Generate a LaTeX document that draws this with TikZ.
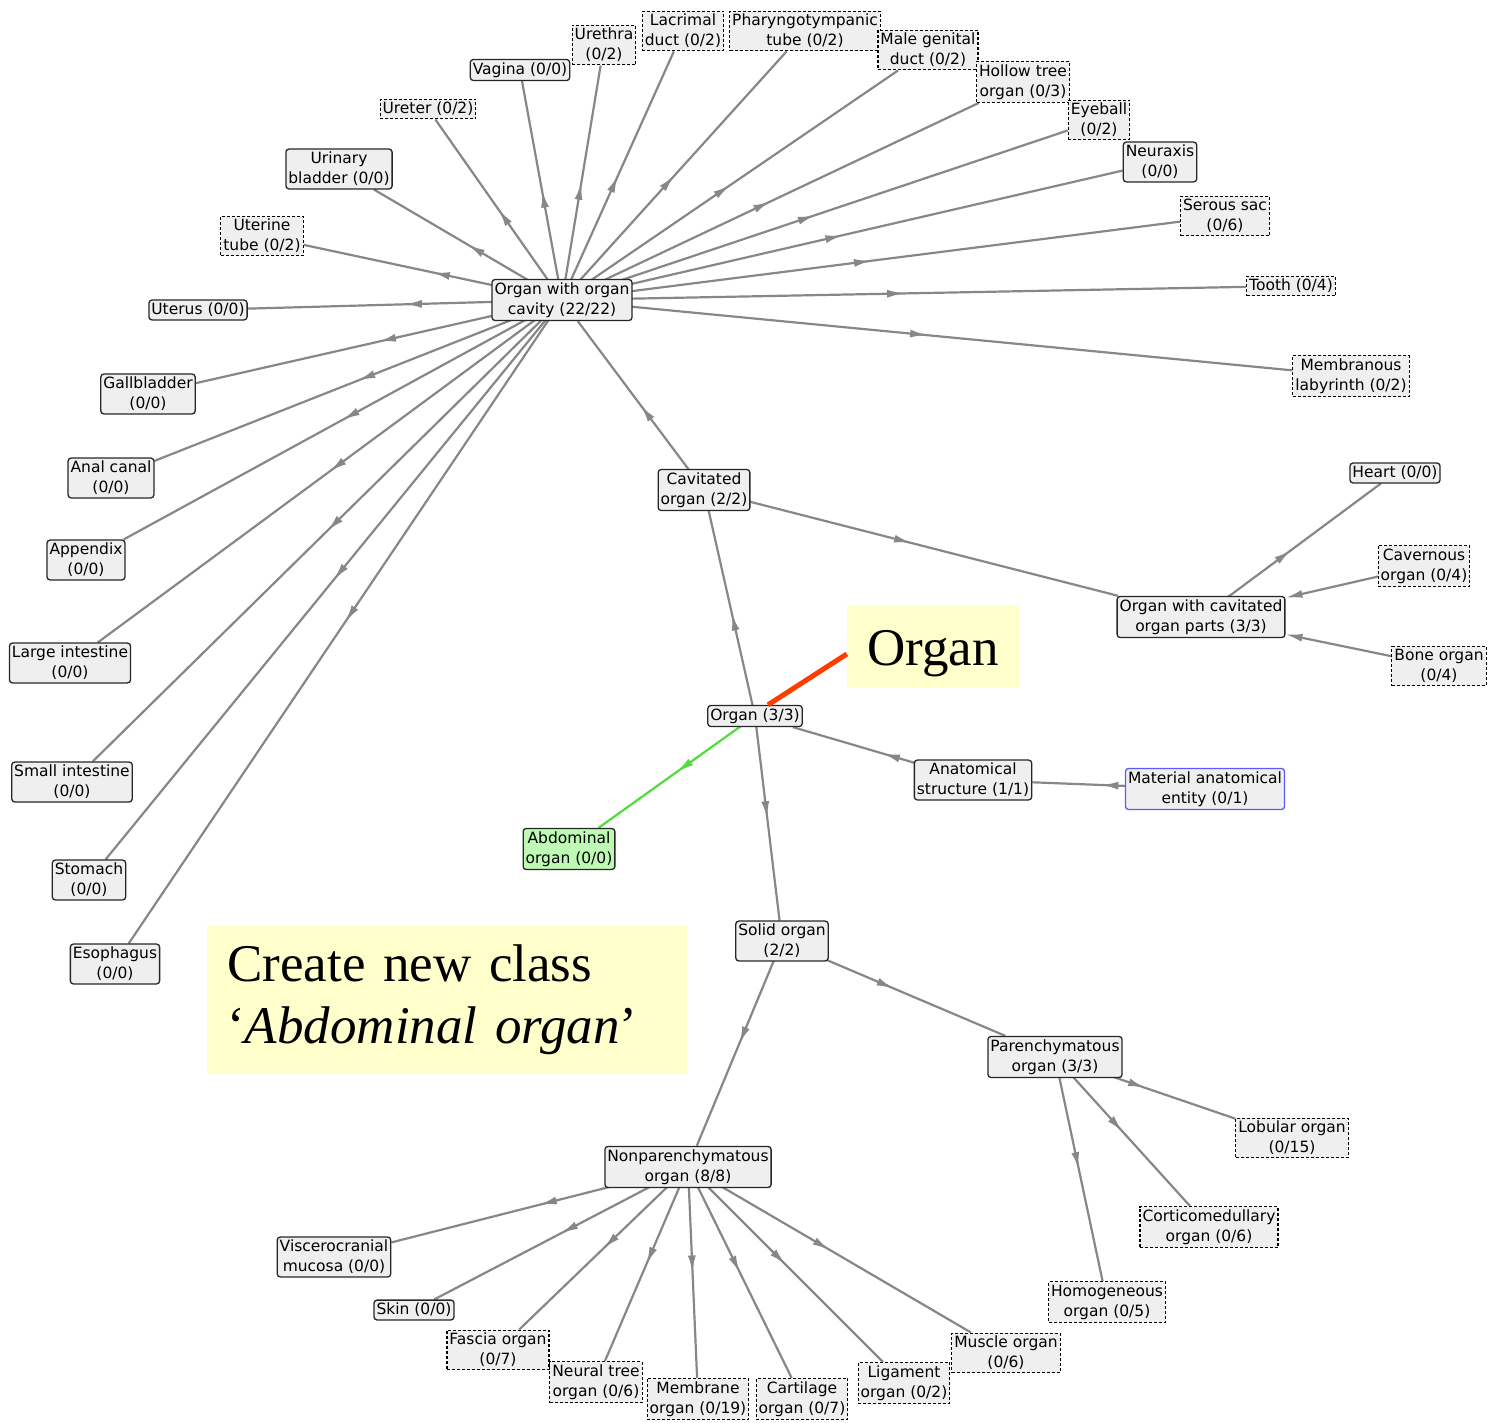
\documentclass[tikz,border=0pt]{standalone}
\usepackage{fontspec}
\setmainfont{DejaVu Sans}
\newfontfamily\notefont{Liberation Serif}
\usetikzlibrary{arrows.meta, decorations.markings, backgrounds}

\definecolor{edgegray}{RGB}{135,135,135}
\definecolor{boxfill}{RGB}{239,239,239}
\definecolor{newgreen}{RGB}{80,220,60}
\definecolor{newfill}{RGB}{190,250,180}
\definecolor{topblue}{RGB}{90,90,255}
\definecolor{notefill}{RGB}{255,255,204}
\definecolor{pointred}{RGB}{255,60,0}

\tikzset{
  cls/.style={draw=black!85, fill=boxfill, rounded corners=3pt, line width=1.3pt, align=center,
    inner xsep=2.5pt, inner ysep=3pt, font=\fontsize{15.5}{20}\selectfont},
  dashcls/.style={cls, draw=black, sharp corners, line width=1.1pt, dash pattern=on 3pt off 2pt},
  newcls/.style={cls, fill=newfill},
  topcls/.style={cls, draw=topblue},
  link/.style={draw=edgegray, line width=2.2pt, postaction={decorate},
    decoration={markings, mark=at position #1 with {\arrow{Latex[length=17pt,width=8pt]}}}},
  link/.default=0.5,
  link end/.style={draw=edgegray, line width=2.2pt, -{Latex[length=17pt,width=8pt]}},
  newlink/.style={link, draw=newgreen},
  note/.style={fill=notefill, font=\notefont\fontsize{53}{62}\selectfont},
  pointer/.style={draw=pointred, line width=5pt}
}

\begin{document}
\begin{tikzpicture}[x=1pt,y=-1pt]
\useasboundingbox (0,0) rectangle (1489,1423);

% organ with organ cavity and its fan
\node[cls] (owoc) at (562,300) {Organ with organ\\cavity (22/22)};
\node[cls] (vagina) at (520,70) {Vagina (0/0)};
\node[dashcls] (urethra) at (604,45) {Urethra\\(0/2)};
\node[dashcls] (lacrimal) at (683,31) {Lacrimal\\duct (0/2)};
\node[dashcls] (pharyngo) at (805,31) {Pharyngotympanic\\tube (0/2)};
\node[dashcls] (malegenital) at (928,50) {Male genital\\duct (0/2)};
\node[dashcls] (hollowtree) at (1023,82) {Hollow tree\\organ (0/3)};
\node[dashcls] (eyeball) at (1099,120) {Eyeball\\(0/2)};
\node[cls] (neuraxis) at (1160,162) {Neuraxis\\(0/0)};
\node[dashcls] (serous) at (1225,216) {Serous sac\\(0/6)};
\node[dashcls] (tooth) at (1291,286) {Tooth (0/4)};
\node[dashcls] (labyrinth) at (1351,376) {Membranous\\labyrinth (0/2)};
\node[dashcls] (ureter) at (428,109) {Ureter (0/2)};
\node[cls] (bladder) at (339,169) {Urinary\\bladder (0/0)};
\node[dashcls] (uterinetube) at (262,236) {Uterine\\tube (0/2)};
\node[cls] (uterus) at (198,310) {Uterus (0/0)};
\node[cls] (gallbladder) at (148,394) {Gallbladder\\(0/0)};
\node[cls] (analcanal) at (111,478) {Anal canal\\(0/0)};
\node[cls] (appendix) at (86,560) {Appendix\\(0/0)};
\node[cls] (largeint) at (70,663) {Large intestine\\(0/0)};
\node[cls] (smallint) at (72,782) {Small intestine\\(0/0)};
\node[cls] (stomach) at (89,880) {Stomach\\(0/0)};
\node[cls] (esophagus) at (115,964) {Esophagus\\(0/0)};

% upper middle
\node[cls] (cavitated) at (704,490) {Cavitated\\organ (2/2)};
\node[cls] (owcop) at (1201,617) {Organ with cavitated\\organ parts (3/3)};
\node[cls] (heart) at (1395,473) {Heart (0/0)};
\node[dashcls] (cavernous) at (1424,566) {Cavernous\\organ (0/4)};
\node[dashcls] (bone) at (1439,666) {Bone organ\\(0/4)};

% organ and the new class
\node[cls] (organ) at (755,716) {Organ (3/3)};
\node[cls] (anatomical) at (973,780) {Anatomical\\structure (1/1)};
\node[topcls] (material) at (1205,789) {Material anatomical\\entity (0/1)};
\node[newcls] (abdominal) at (569,849) {Abdominal\\organ (0/0)};

% solid organs
\node[cls] (solid) at (782,941) {Solid organ\\(2/2)};
\node[cls] (parench) at (1055,1057) {Parenchymatous\\organ (3/3)};
\node[dashcls] (lobular) at (1292,1138) {Lobular organ\\(0/15)};
\node[dashcls] (cortico) at (1209,1227) {Corticomedullary\\organ (0/6)};
\node[dashcls] (homogeneous) at (1107,1302) {Homogeneous\\organ (0/5)};
\node[cls] (nonparench) at (688,1167) {Nonparenchymatous\\organ (8/8)};
\node[cls] (viscero) at (334,1257) {Viscerocranial\\mucosa (0/0)};
\node[cls] (skin) at (414,1310) {Skin (0/0)};
\node[dashcls] (fascia) at (498,1350) {Fascia organ\\(0/7)};
\node[dashcls] (neural) at (596,1382) {Neural tree\\organ (0/6)};
\node[dashcls] (membrane) at (698,1399) {Membrane\\organ (0/19)};
\node[dashcls] (cartilage) at (802,1399) {Cartilage\\organ (0/7)};
\node[dashcls] (ligament) at (904,1383) {Ligament\\organ (0/2)};
\node[dashcls] (muscle) at (1006,1353) {Muscle organ\\(0/6)};

\begin{scope}[on background layer]
\foreach \n in {vagina,urethra,lacrimal,pharyngo,malegenital,hollowtree,eyeball,neuraxis,serous,tooth,labyrinth,ureter,bladder,uterinetube,uterus,gallbladder,analcanal,appendix,largeint,smallint,stomach,esophagus}
  \draw[link] (owoc.center) -- (\n);
\draw[link] (cavitated.center) -- (owoc);
\draw[link] (cavitated.center) -- (owcop);
\draw[link] (owcop.center) -- (heart);
\draw[link end] (cavernous.center) -- (owcop);
\draw[link end] (bone.center) -- (owcop);
\draw[link] (organ.center) -- (cavitated);
\draw[link] (organ.center) -- (solid);
\draw[newlink] (organ.center) -- (abdominal);
\draw[link] (anatomical.center) -- (organ);
\draw[link=0.6] (material.center) -- (anatomical);
\draw[link] (solid.center) -- (parench);
\draw[link] (solid.center) -- (nonparench);
\foreach \n in {lobular,cortico,homogeneous}
  \draw[link] (parench.center) -- (\n);
\foreach \n in {viscero,skin,fascia,neural,membrane,cartilage,ligament,muscle}
  \draw[link] (nonparench.center) -- (\n);
\end{scope}

% notes
\node[note, minimum width=172pt, minimum height=83pt, text height=37pt, text depth=0pt, inner sep=0pt] (organnote) at (933,646.5) {Organ};
\draw[pointer] ([xshift=13pt]organ.north) -- ([yshift=-7.5pt]organnote.west);
\node[note, anchor=north west, minimum width=480pt, minimum height=147pt, text width=440pt, inner xsep=20pt, align=left] (newclassnote) at (207,926) {Create new class\\‘\textit{Abdominal organ}’};
\end{tikzpicture}
\end{document}
